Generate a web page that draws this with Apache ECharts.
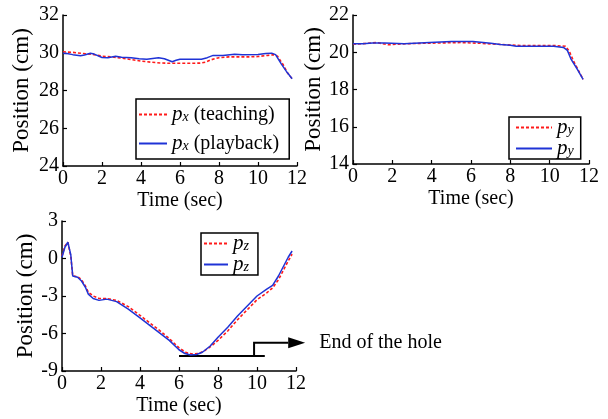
<!DOCTYPE html>
<html>
<head>
<meta charset="utf-8">
<script src="https://cdn.jsdelivr.net/npm/echarts@6/dist/echarts.min.js"></script>
<style>html,body{margin:0;padding:0;background:#fff;}#c{width:608px;height:419px;}</style>
</head>
<body>
<div id="c"></div>
<script>
// ---- data ----
const pxPlayT = [0,0.2,0.5,0.9,1.1,1.4,1.6,2.0,2.3,2.7,3.0,3.5,3.9,4.3,4.6,4.9,5.2,5.6,5.8,6.0,6.5,7.1,7.4,7.7,8.2,8.8,9.2,10.0,10.4,10.7,10.9,11.2,11.5,11.75];
const pxPlayV = [29.97,29.96,29.9,29.84,29.88,29.97,29.93,29.75,29.74,29.82,29.76,29.74,29.68,29.66,29.7,29.73,29.68,29.52,29.6,29.66,29.65,29.66,29.74,29.86,29.85,29.92,29.9,29.91,29.96,29.98,29.9,29.4,28.95,28.62];
const pxTeachT = [0,0.5,1.0,1.5,2.0,2.5,3.0,3.5,4.0,4.5,5.0,5.5,6.0,6.5,7.0,7.3,7.6,8.0,8.5,9.0,9.5,10.0,10.5,10.8,11.0,11.3,11.5,11.75];
const pxTeachV = [30.05,30.02,29.96,29.92,29.82,29.78,29.72,29.64,29.56,29.5,29.46,29.44,29.44,29.44,29.45,29.5,29.63,29.74,29.78,29.78,29.78,29.8,29.86,29.9,29.82,29.35,28.95,28.62];

const pyPlayT = [0,0.5,1.0,1.6,1.7,2.6,2.7,3.9,4.0,5.0,6.1,6.2,7.0,7.5,8.0,8.3,9.0,10.2,10.3,10.7,10.9,11.1,11.4,11.7];
const pyPlayV = [20.45,20.45,20.5,20.5,20.43,20.45,20.52,20.52,20.58,20.58,20.58,20.5,20.48,20.42,20.38,20.32,20.32,20.32,20.26,20.26,20.1,19.6,19.1,18.55];
const pyTeachT = [0,0.5,1.2,1.8,2.5,3.5,4.5,5.5,6.5,7.5,8.5,9.5,10.3,10.8,11.0,11.2,11.4,11.7];
const pyTeachV = [20.43,20.46,20.52,20.4,20.45,20.48,20.5,20.52,20.48,20.42,20.36,20.36,20.36,20.32,20.05,19.55,19.15,18.55];

const pzPlayT = [0,0.15,0.3,0.45,0.55,0.8,1.0,1.2,1.35,1.6,1.9,2.3,2.8,3.4,4.0,4.5,5.0,5.5,6.0,6.3,6.6,6.9,7.2,7.6,8.0,8.5,9.0,9.5,10.0,10.5,10.8,11.1,11.4,11.6,11.8];
const pzPlayV = [0.1,0.9,1.3,0.3,-1.4,-1.5,-1.8,-2.3,-2.85,-3.2,-3.35,-3.25,-3.45,-4.05,-4.75,-5.35,-5.95,-6.55,-7.3,-7.6,-7.72,-7.68,-7.5,-7.0,-6.3,-5.5,-4.6,-3.8,-3.0,-2.45,-2.15,-1.4,-0.5,0.1,0.6];
const pzTeachT = [0,0.15,0.3,0.45,0.55,0.8,1.0,1.2,1.35,1.6,1.9,2.3,2.8,3.4,4.0,4.5,5.0,5.5,6.0,6.4,6.7,7.0,7.3,7.7,8.0,8.5,9.0,9.5,10.0,10.5,10.8,11.1,11.4,11.6,11.8];
const pzTeachV = [0.2,1.0,1.3,0.2,-1.4,-1.45,-1.7,-2.2,-2.7,-3.0,-3.2,-3.2,-3.35,-3.85,-4.55,-5.15,-5.75,-6.4,-7.15,-7.55,-7.65,-7.6,-7.4,-6.95,-6.55,-5.8,-4.9,-4.1,-3.3,-2.75,-2.35,-1.7,-0.8,-0.2,0.35];

const xTicks = [0,2,4,6,8,10,12];
const yRanges = [[24,32,2],[14,22,2],[-9,3,3]];
const xName = 'Time (sec)';
const yName = 'Position (cm)';
const annotationText = 'End of the hole';

// ---- chart ----
const FONT = '"Liberation Serif","Times New Roman",serif';
const RED = '#ff1a1a', BLUE = '#1f33d6';
const zip = (t, v) => t.map((x, i) => [x, v[i]]);

const grids = [
  {left: 63, top: 15, width: 234, height: 151},
  {left: 353, top: 15, width: 236, height: 149},
  {left: 62, top: 221, width: 234, height: 150}
];
const yNameGaps = [30, 25, 25];

function xAxis(i) {
  return {
    type: 'value', gridIndex: i, min: xTicks[0], max: xTicks[xTicks.length - 1], interval: 2,
    name: xName, nameLocation: 'middle', nameGap: 25,
    nameTextStyle: {fontFamily: FONT, fontSize: 20, color: '#000'},
    axisLine: {onZero: false, lineStyle: {color: '#000', width: 1.5}},
    axisTick: {inside: true, length: 4, lineStyle: {color: '#000', width: 1.2}},
    axisLabel: {fontFamily: FONT, fontSize: 20, color: '#000', margin: 3},
    splitLine: {show: false}
  };
}
function yAxis(i) {
  const r = yRanges[i];
  return {
    type: 'value', gridIndex: i, min: r[0], max: r[1], interval: r[2],
    name: yName, nameLocation: 'middle', nameGap: yNameGaps[i],
    nameTextStyle: {fontFamily: FONT, fontSize: 23, color: '#000'},
    axisLine: {show: true, onZero: false, lineStyle: {color: '#000', width: 1.5}},
    axisTick: {show: true, inside: true, length: 4, lineStyle: {color: '#000', width: 1.2}},
    axisLabel: {fontFamily: FONT, fontSize: 20, color: '#000', margin: 4},
    splitLine: {show: false}
  };
}
function line(name, i, data, color, dotted) {
  return {
    name, type: 'line', xAxisIndex: i, yAxisIndex: i, data,
    symbol: 'none', showSymbol: false, smooth: false, animation: false,
    lineStyle: {color, width: dotted ? 1.6 : 1.5, type: dotted ? [3, 2] : 'solid'},
    itemStyle: {color}
  };
}
const rich = {
  p: {fontFamily: FONT, fontStyle: 'italic', fontSize: 21, color: '#000', lineHeight: 19},
  s: {fontFamily: FONT, fontStyle: 'italic', fontSize: 14, color: '#000', lineHeight: 9, verticalAlign: 'bottom'},
  t: {fontFamily: FONT, fontSize: 20, color: '#000', lineHeight: 19}
};
const labels = {
  pxT: '{p|p}{s|x}{t| (teaching)}',
  pxP: '{p|p}{s|x}{t| (playback)}',
  pyT: '{p|p}{s|y}', pyP: '{p|p}{s|y}',
  pzT: '{p|p}{s|z}', pzP: '{p|p}{s|z}'
};
function legend(names, left, top, itemWidth, padding, itemGap) {
  return {
    data: names, orient: 'vertical', left, top, itemWidth, itemHeight: 10, itemGap,
    padding, borderColor: '#000', borderWidth: 1.5, borderRadius: 0,
    backgroundColor: '#fff', selectedMode: false,
    itemStyle: {opacity: 0},
    formatter: n => labels[n],
    textStyle: {rich, fontFamily: FONT, fontSize: 20, color: '#000'}
  };
}

const chart = echarts.init(document.getElementById('c'), null, {renderer: 'canvas'});
chart.setOption({
  animation: false,
  backgroundColor: '#fff',
  grid: grids,
  xAxis: [xAxis(0), xAxis(1), xAxis(2)],
  yAxis: [yAxis(0), yAxis(1), yAxis(2)],
  legend: [
    legend(['pxT', 'pxP'], 136, 99, 28, [5, 10, 5, 2], 8),
    legend(['pyT', 'pyP'], 509, 117, 36, [0, 7, 0, 6], 0),
    legend(['pzT', 'pzP'], 201, 233, 24, [0, 9, 0, 2], 0)
  ],
  series: [
    line('pxT', 0, zip(pxTeachT, pxTeachV), RED, true),
    line('pxP', 0, zip(pxPlayT, pxPlayV), BLUE, false),
    line('pyT', 1, zip(pyTeachT, pyTeachV), RED, true),
    line('pyP', 1, zip(pyPlayT, pyPlayV), BLUE, false),
    line('pzT', 2, zip(pzTeachT, pzTeachV), RED, true),
    line('pzP', 2, zip(pzPlayT, pzPlayV), BLUE, false)
  ]
});

// annotation (bracket + arrow) anchored in grid 3's data space
const P = v => chart.convertToPixel({gridIndex: 2}, v);
const a0 = P([6, -7.8]), a1 = P([10.4, -7.8]);
const s0 = P([9.85, -7.8]), s1 = P([9.85, -6.74]), s2 = P([11.6, -6.74]);
const tip = P([12.47, -6.74]);
chart.setOption({
  graphic: [
    {type: 'polyline', shape: {points: [a0, a1]}, style: {stroke: '#000', lineWidth: 2, fill: null}},
    {type: 'polyline', shape: {points: [s0, s1, s2]}, style: {stroke: '#000', lineWidth: 2, fill: null}},
    {type: 'polygon', shape: {points: [[s2[0], s2[1] - 5.5], [tip[0], tip[1]], [s2[0], s2[1] + 5.5]]}, style: {fill: '#000'}},
    {type: 'text', x: tip[0] + 14, y: tip[1], style: {text: annotationText, font: '20px ' + FONT, fill: '#000', verticalAlign: 'middle', align: 'left'}}
  ]
});
</script>
</body>
</html>
